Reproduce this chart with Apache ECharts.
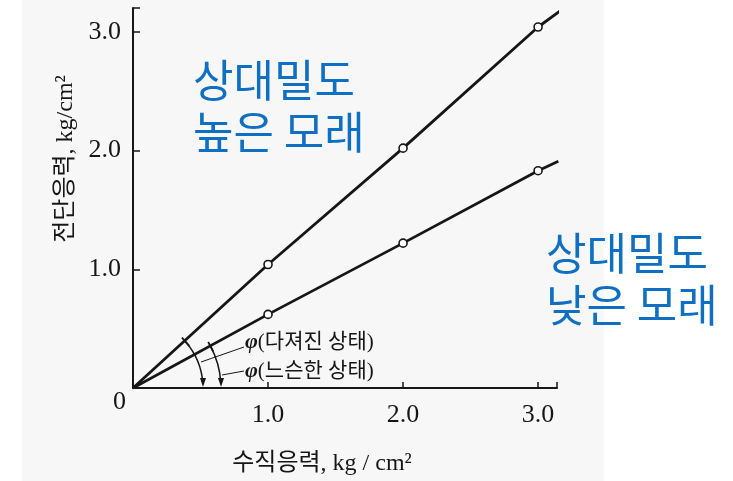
<!DOCTYPE html>
<html>
<head>
<meta charset="utf-8">
<title>전단응력 - 수직응력</title>
<script src="https://cdn.jsdelivr.net/npm/echarts/dist/echarts.min.js"></script>
<style>
  html, body { margin: 0; padding: 0; background: #ffffff; }
  #chart { width: 733px; height: 481px; }
</style>
</head>
<body>
<div id="chart"></div>
<script>
// Normal stress (x) vs shear stress (y), kg/cm²
const xTickValues = [0, 1.0, 2.0, 3.0];
const yTickValues = [0, 1.0, 2.0, 3.0];

// Dense sand: measured points at 1, 2, 3 plus the line's origin and extension
const denseX = [0, 1.0, 2.0, 3.0, 3.18];
const denseY = [0, 1.04, 2.02, 3.04, 3.19];

// Loose sand
const looseX = [0, 1.0, 2.0, 3.0, 3.15];
const looseY = [0, 0.62, 1.22, 1.83, 1.91];

// Indices of the measured (circled) points
const measuredIdx = [1, 2, 3];

const SERIF = '"Liberation Serif", "DejaVu Serif", "Noto Sans CJK KR", serif';
const KR = '"Noto Sans CJK KR", sans-serif';
const INK = '#161616';
const BLUE = '#0f6fc2';

function toData(xs, ys) {
  return xs.map((x, i) => ({
    value: [x, ys[i]],
    symbol: measuredIdx.includes(i) ? 'circle' : 'none'
  }));
}

function lineSeries(name, xs, ys) {
  return {
    name: name,
    type: 'line',
    data: toData(xs, ys),
    clip: false,
    symbolSize: 8,
    showAllSymbol: true,
    lineStyle: { color: INK, width: 2.8 },
    itemStyle: { color: '#ffffff', borderColor: INK, borderWidth: 1.6 },
    z: 3,
    silent: true
  };
}

const chart = echarts.init(document.getElementById('chart'), null, { renderer: 'canvas' });

const tickFmt = v => (v === 0 ? '' : v.toFixed(1));

chart.setOption({
  animation: false,
  backgroundColor: '#ffffff',
  grid: { left: 133, right: 176, top: 8, bottom: 85, containLabel: false },
  xAxis: {
    type: 'value',
    min: 0, max: 3.14, interval: 1,
    name: '수직응력, kg / cm²',
    nameLocation: 'middle',
    nameGap: 64,
    nameTextStyle: { fontFamily: SERIF, fontSize: 24, color: INK, padding: [0, 46, 0, 0] },
    axisLine: { show: true, lineStyle: { color: INK, width: 2 } },
    axisTick: { show: true, inside: true, length: 6, lineStyle: { color: INK, width: 1.5 } },
    axisLabel: { formatter: tickFmt, fontFamily: SERIF, fontSize: 26, color: INK, margin: 14,
                 customValues: xTickValues },
    splitLine: { show: false }
  },
  yAxis: {
    type: 'value',
    min: 0, max: 3.2, interval: 1,
    name: '전단응력, kg/cm²',
    nameLocation: 'middle',
    nameRotate: 90,
    nameGap: 53,
    nameTextStyle: { fontFamily: SERIF, fontSize: 24, color: INK, padding: [0, 0, 0, 78] },
    axisLine: { show: true, lineStyle: { color: INK, width: 2 } },
    axisTick: { show: true, inside: true, length: 7, lineStyle: { color: INK, width: 1.5 } },
    axisLabel: { formatter: tickFmt, fontFamily: SERIF, fontSize: 26, color: INK, margin: 12,
                 customValues: yTickValues },
    splitLine: { show: false }
  },
  series: [
    lineSeries('dense', denseX, denseY),
    lineSeries('loose', looseX, looseY)
  ]
});

// Annotations: origin label, friction-angle arcs, and the sand descriptions
const o = chart.convertToPixel({ gridIndex: 0 }, [0, 0]);
const pd = chart.convertToPixel({ gridIndex: 0 }, [denseX[3], denseY[3]]);
const pl = chart.convertToPixel({ gridIndex: 0 }, [looseX[3], looseY[3]]);
const thDense = Math.atan2(o[1] - pd[1], pd[0] - o[0]);
const thLoose = Math.atan2(o[1] - pl[1], pl[0] - o[0]);

function angleArc(r, th) {
  const px = o[0] + r * Math.cos(th);
  const py = o[1] - r * Math.sin(th);
  // short dimension mark across the line where the arc begins
  const nx = Math.sin(th), ny = Math.cos(th);
  const ax = o[0] + r;
  return [
    { type: 'arc', z: 10, silent: true,
      shape: { cx: o[0], cy: o[1], r: r, startAngle: -th, endAngle: -0.06, clockwise: true },
      style: { stroke: INK, lineWidth: 1.5, fill: null } },
    { type: 'line', z: 10, silent: true,
      shape: { x1: px - nx * 5, y1: py - ny * 5, x2: px + nx * 6, y2: py + ny * 6 },
      style: { stroke: INK, lineWidth: 1.8 } },
    { type: 'polygon', z: 10, silent: true,
      shape: { points: [[ax - 3, o[1] - 10], [ax + 3, o[1] - 10], [ax, o[1] - 1]] },
      style: { fill: INK } }
  ];
}

function phiLabel(x, y, body) {
  return {
    type: 'text', z: 10, silent: true, x: x, y: y,
    style: {
      text: '{p|φ}{t|' + body + '}',
      verticalAlign: 'middle', align: 'left',
      rich: {
        p: { fontFamily: SERIF, fontStyle: 'italic', fontWeight: 'bold', fontSize: 22, fill: INK },
        t: { fontFamily: SERIF, fontSize: 21, fill: INK }
      }
    }
  };
}

function blueNote(x, y, text) {
  return {
    type: 'text', z: 10, silent: true, x: x, y: y,
    style: { text: text, fontFamily: KR, fontSize: 44, lineHeight: 52, fill: BLUE,
             align: 'left', verticalAlign: 'top' }
  };
}

const graphics = [
  // paper tone of the scanned plot area
  { type: 'rect', z: -10, silent: true, shape: { x: 22, y: 0, width: 582, height: 481 },
    style: { fill: '#f7f7f7' } },
  { type: 'text', z: 10, silent: true, x: o[0] - 7, y: o[1] + 14,
    style: { text: '0', fontFamily: SERIF, fontSize: 26, fill: INK, align: 'right', verticalAlign: 'middle' } },
  ...angleArc(70, thDense),
  ...angleArc(88, thLoose),
  { type: 'line', z: 10, silent: true,
    shape: { x1: o[0] + 68, y1: o[1] - 26, x2: o[0] + 111, y2: o[1] - 41 },
    style: { stroke: INK, lineWidth: 1 } },
  { type: 'line', z: 10, silent: true,
    shape: { x1: o[0] + 89, y1: o[1] - 13, x2: o[0] + 111, y2: o[1] - 17 },
    style: { stroke: INK, lineWidth: 1 } },
  phiLabel(o[0] + 112, o[1] - 46, '(다져진 상태)'),
  phiLabel(o[0] + 112, o[1] - 17, '(느슨한 상태)'),
  blueNote(193, 54, '상대밀도\n높은 모래'),
  blueNote(546, 227, '상대밀도\n낮은 모래')
];

chart.setOption({ graphic: graphics });
</script>
</body>
</html>
